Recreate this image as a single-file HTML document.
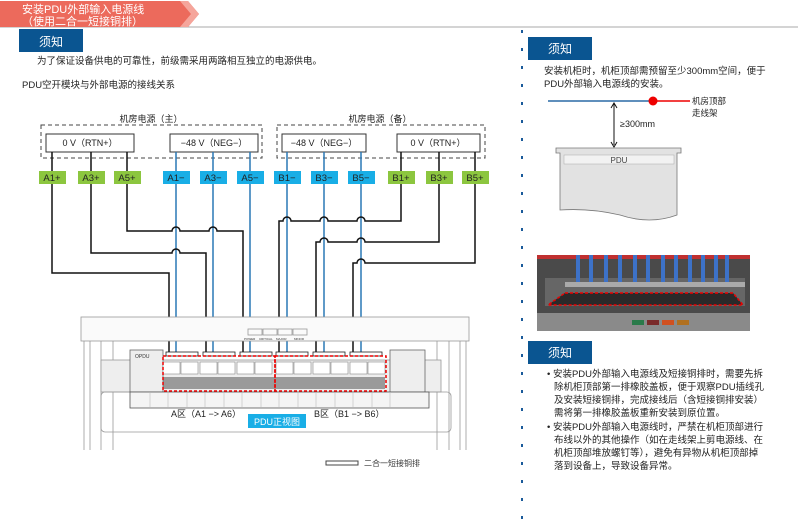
<!DOCTYPE html>
<html><head><meta charset="utf-8"><style>
body{margin:0;width:798px;height:525px;background:#fff;overflow:hidden;font-family:"Liberation Sans","Noto Sans CJK SC",sans-serif;}
</style></head><body>
<svg width="798" height="525" xmlns="http://www.w3.org/2000/svg" font-family="Liberation Sans, Noto Sans CJK SC, sans-serif">
<!-- header -->
<line x1="0" y1="27" x2="798" y2="27" stroke="#aaa" stroke-width="1"/>
<polygon points="0,1 188,1 199,14 188,27 0,27" fill="#ec6a5c"/>
<polygon points="180,1 188,1 199,14 188,27 180,27 191,14" fill="#f5a59b"/>
<text x="22" y="13" font-size="11" fill="#fff">安装PDU外部输入电源线</text>
<text x="22" y="25" font-size="11" fill="#fff">（使用二合一短接铜排）</text>
<rect x="19" y="29" width="64" height="23" fill="#0a5591"/>
<text x="39" y="46" font-size="12" fill="#fff">须知</text>
<text x="37" y="64" font-size="9.5" fill="#222">为了保证设备供电的可靠性，前级需采用两路相互独立的电源供电。</text>
<text x="22" y="88" font-size="9.5" fill="#222">PDU空开模块与外部电源的接线关系</text>
<line x1="522" y1="30" x2="522" y2="522" stroke="#1a5a9a" stroke-width="2" stroke-dasharray="3,15"/>

<text x="151" y="122" font-size="9" fill="#222" text-anchor="middle">机房电源（主）</text>
<text x="380" y="122" font-size="9" fill="#222" text-anchor="middle">机房电源（备）</text>
<rect x="41" y="125" width="221" height="33" fill="none" stroke="#444" stroke-dasharray="4,3"/>
<rect x="277" y="125" width="208" height="33" fill="none" stroke="#444" stroke-dasharray="4,3"/>
<g fill="#fff" stroke="#333">
<rect x="46" y="134" width="88" height="18"/><rect x="170" y="134" width="88" height="18"/>
<rect x="282" y="134" width="84" height="18"/><rect x="397" y="134" width="83" height="18"/>
</g>
<g font-size="9" fill="#222" text-anchor="middle">
<text x="90" y="146">0 V（RTN+）</text><text x="214" y="146">−48 V（NEG−）</text>
<text x="324" y="146">−48 V（NEG−）</text><text x="438" y="146">0 V（RTN+）</text>
</g>
<g fill="none" stroke-width="1.5">
<g stroke="#2a78b5">
<line x1="176" y1="152" x2="176" y2="356"/><line x1="213" y1="152" x2="213" y2="356"/><line x1="250" y1="152" x2="250" y2="356"/>
<line x1="287" y1="152" x2="287" y2="356"/><line x1="324" y1="152" x2="324" y2="356"/><line x1="361" y1="152" x2="361" y2="356"/>
</g>
<g stroke="#111">
<line x1="52" y1="152" x2="52" y2="171"/><line x1="91" y1="152" x2="91" y2="171"/><line x1="127" y1="152" x2="127" y2="171"/>
<line x1="401" y1="152" x2="401" y2="171"/><line x1="439" y1="152" x2="439" y2="171"/><line x1="475" y1="152" x2="475" y2="171"/>
<path d="M52 184 V273 H169 V356"/>
<path d="M91 184 V253 H172 a4 4 0 0 1 8 0 H206 V356"/>
<path d="M127 184 V231 H172 a4 4 0 0 1 8 0 H209 a4 4 0 0 1 8 0 H243 V356"/>
<path d="M401 184 V221 H365 a4 4 0 0 0 -8 0 H328 a4 4 0 0 0 -8 0 H291 a4 4 0 0 0 -8 0 H279 V356"/>
<path d="M439 184 V242 H365 a4 4 0 0 0 -8 0 H328 a4 4 0 0 0 -8 0 H316 V356"/>
<path d="M475 184 V263 H365 a4 4 0 0 0 -8 0 H353 V356"/>
</g>
</g>
<g font-size="9.5" text-anchor="middle">
<g fill="#8cc63f"><rect x="39" y="171" width="27" height="13"/><rect x="78" y="171" width="27" height="13"/><rect x="114" y="171" width="27" height="13"/><rect x="388" y="171" width="27" height="13"/><rect x="426" y="171" width="27" height="13"/><rect x="462" y="171" width="27" height="13"/></g>
<g fill="#19aee6"><rect x="163" y="171" width="27" height="13"/><rect x="200" y="171" width="27" height="13"/><rect x="237" y="171" width="27" height="13"/><rect x="274" y="171" width="27" height="13"/><rect x="311" y="171" width="27" height="13"/><rect x="348" y="171" width="27" height="13"/></g>
<g fill="#222"><text x="52" y="181">A1+</text><text x="91" y="181">A3+</text><text x="127" y="181">A5+</text><text x="401" y="181">B1+</text><text x="439" y="181">B3+</text><text x="475" y="181">B5+</text>
<text x="176" y="181">A1−</text><text x="213" y="181">A3−</text><text x="250" y="181">A5−</text><text x="287" y="181">B1−</text><text x="324" y="181">B3−</text><text x="361" y="181">B5−</text></g>
</g>

<g fill="none" stroke="#999" stroke-width="0.8">
<rect x="81" y="317" width="388" height="24" fill="#fafafa"/>
<line x1="84" y1="341" x2="84" y2="450"/><line x1="90" y1="341" x2="90" y2="450"/><line x1="101" y1="341" x2="101" y2="450"/><line x1="113" y1="341" x2="113" y2="450"/>
<line x1="466" y1="341" x2="466" y2="450"/><line x1="460" y1="341" x2="460" y2="450"/><line x1="449" y1="341" x2="449" y2="450"/><line x1="437" y1="341" x2="437" y2="450"/>
<rect x="101" y="360" width="340" height="32" fill="#eee"/>
<rect x="101" y="392" width="350" height="40" rx="4"/>
<rect x="130" y="350" width="33" height="42" fill="#eee" stroke="#666"/>
<rect x="390" y="350" width="35" height="42" fill="#eee" stroke="#666"/>
<rect x="130" y="392" width="299" height="16" fill="#f4f4f4" stroke="#555"/>
<rect x="248" y="329" width="14" height="6"/><rect x="263" y="329" width="14" height="6"/><rect x="278" y="329" width="14" height="6"/><rect x="293" y="329" width="14" height="6"/>
</g>
<g font-size="3" fill="#333"><text x="244" y="340">POWER</text><text x="259" y="340">CRITICAL</text><text x="276" y="340">MAJOR</text><text x="294" y="340">MINOR</text></g>
<text x="135" y="358" font-size="5" fill="#333">OPDU</text>
<g fill="#fff" stroke="#888" stroke-width="0.6">
<rect x="163" y="362" width="17" height="12"/><rect x="181" y="362" width="17" height="12"/><rect x="200" y="362" width="17" height="12"/><rect x="218" y="362" width="17" height="12"/><rect x="237" y="362" width="17" height="12"/><rect x="255" y="362" width="17" height="12"/>
<rect x="276" y="362" width="17" height="12"/><rect x="294" y="362" width="17" height="12"/><rect x="313" y="362" width="17" height="12"/><rect x="331" y="362" width="17" height="12"/><rect x="350" y="362" width="17" height="12"/><rect x="368" y="362" width="17" height="12"/>
</g>
<g fill="#555"><rect x="163" y="377" width="222" height="12" opacity="0.55"/></g>
<g fill="#fff" stroke="#222" stroke-width="0.8">
<rect x="166" y="352" width="32" height="4"/><rect x="203" y="352" width="32" height="4"/><rect x="240" y="352" width="32" height="4"/>
<rect x="276" y="352" width="32" height="4"/><rect x="313" y="352" width="32" height="4"/><rect x="350" y="352" width="32" height="4"/>
</g>
<rect x="163" y="356" width="112" height="35" fill="none" stroke="#e00" stroke-width="1.5" stroke-dasharray="3,2"/>
<rect x="275" y="356" width="111" height="35" fill="none" stroke="#e00" stroke-width="1.5" stroke-dasharray="3,2"/>
<g stroke="#bbb" stroke-width="0.6"><path d="M150 393v14M168 393v14M187 393v14M205 393v14M224 393v14M242 393v14M261 393v14M279 393v14M298 393v14M316 393v14M335 393v14M353 393v14M372 393v14M390 393v14"/></g>
<text x="171" y="417" font-size="9" fill="#222">A区（A1 −&gt; A6）</text>
<text x="314" y="417" font-size="9" fill="#222">B区（B1 −&gt; B6）</text>
<rect x="248" y="414" width="58" height="14" fill="#19aee6"/>
<text x="277" y="425" font-size="9" fill="#fff" text-anchor="middle">PDU正视图</text>
<rect x="326" y="461" width="32" height="4" fill="#fff" stroke="#444"/>
<text x="364" y="466" font-size="8" fill="#333">二合一短接铜排</text>

<rect x="528" y="37" width="64" height="23" fill="#0a5591"/>
<text x="548" y="53" font-size="12" fill="#fff">须知</text>
<text x="544" y="74" font-size="9.5" fill="#222">安装机柜时，机柜顶部需预留至少300mm空间，便于</text>
<text x="544" y="87" font-size="9.5" fill="#222">PDU外部输入电源线的安装。</text>
<line x1="548" y1="101" x2="652" y2="101" stroke="#2a6aa5" stroke-width="1.5"/>
<line x1="653" y1="101" x2="690" y2="101" stroke="#e00" stroke-width="1.5"/>
<circle cx="653" cy="101" r="4.5" fill="#e00"/>
<text x="692" y="104" font-size="8.5" fill="#222">机房顶部</text>
<text x="692" y="116" font-size="8.5" fill="#222">走线架</text>
<line x1="614" y1="104" x2="614" y2="145" stroke="#111"/>
<path d="M611 108l3-5 3 5M611 142l3 5 3-5" fill="none" stroke="#111"/>
<text x="620" y="127" font-size="9" fill="#222">≥300mm</text>
<path d="M556 148 H681 V153 H677 V215 Q650 225 620 215 Q590 208 560 210 V153 H556 Z" fill="#e2e2e2" stroke="#777" stroke-width="0.8"/>
<rect x="564" y="155" width="110" height="9" fill="#f2f2f2" stroke="#aaa" stroke-width="0.5"/>
<text x="619" y="163" font-size="8" fill="#444" text-anchor="middle">PDU</text>
<rect x="537" y="255" width="213" height="76" fill="#4a4a4a"/>
<rect x="537" y="255" width="213" height="4" fill="#c03030"/>
<rect x="545" y="278" width="200" height="28" fill="#666"/>
<g stroke="#3d72c8" stroke-width="4"><path d="M578 255v28M591 255v28M606 255v28M620 255v28M635 255v28M648 255v28M663 255v28M676 255v28M690 255v28M703 255v28M716 255v28M727 255v28"/></g>
<rect x="565" y="282" width="180" height="5" fill="#aaa"/>
<path d="M565 293 H733 L743 305 H548 Z" fill="#2a2a2a" stroke="#e00" stroke-width="1.5" stroke-dasharray="3,2"/>
<rect x="537" y="313" width="213" height="18" fill="#8a8a8a"/>
<rect x="632" y="320" width="12" height="5" fill="#2a7a4a"/><rect x="647" y="320" width="12" height="5" fill="#7a2a2a"/><rect x="662" y="320" width="12" height="5" fill="#d05020"/><rect x="677" y="320" width="12" height="5" fill="#b07020"/>
<rect x="528" y="341" width="64" height="23" fill="#0a5591"/>
<text x="548" y="357" font-size="12" fill="#fff">须知</text>
<g font-size="9.5" fill="#222">
<text x="547" y="377">• 安装PDU外部输入电源线及短接铜排时，需要先拆</text>
<text x="554" y="390">除机柜顶部第一排橡胶盖板，便于观察PDU插线孔</text>
<text x="554" y="403">及安装短接铜排，完成接线后（含短接铜排安装）</text>
<text x="554" y="416">需将第一排橡胶盖板重新安装到原位置。</text>
<text x="547" y="430">• 安装PDU外部输入电源线时，严禁在机柜顶部进行</text>
<text x="554" y="443">布线以外的其他操作（如在走线架上剪电源线、在</text>
<text x="554" y="456">机柜顶部堆放螺钉等），避免有异物从机柜顶部掉</text>
<text x="554" y="469">落到设备上，导致设备异常。</text>
</g>
</svg>
</body></html>
